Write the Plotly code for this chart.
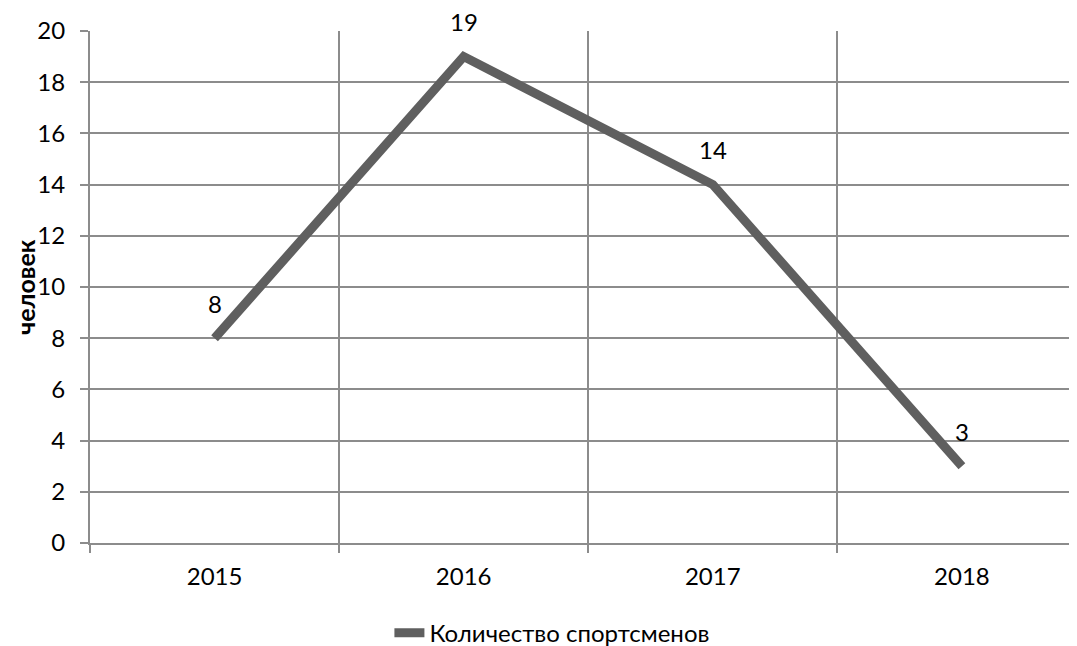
import plotly.graph_objects as go

years = ["2015", "2016", "2017", "2018"]
athletes = [8, 19, 14, 3]
series_name = "Количество спортсменов"
y_title = "человек"

FONT = "Lato"
GRID = "#8c8c8c"
LINE = "#5f5f5f"

fig = go.Figure()
fig.add_trace(go.Scatter(
    x=years, y=athletes, mode="lines", name=series_name,
    line=dict(color=LINE, width=9),
))

for i, v in enumerate(athletes):
    fig.add_annotation(x=i, y=v, xref="x", yref="y", text=str(v),
                       showarrow=False, yshift=35,
                       font=dict(family=FONT, size=24, color="black"))

# y-axis title placed as a rotated annotation left of the axis
fig.add_annotation(x=0, y=0.5, xref="paper", yref="paper", text="<b>" + y_title + "</b>",
                   textangle=-90, showarrow=False, xanchor="center", yanchor="middle",
                   xshift=-65, font=dict(family=FONT, size=25, color="black"))

# page body has an 8px default margin; size the figure to fit the window
fig.update_layout(
    width=1069, height=638,
    margin=dict(l=82, r=0, t=23, b=103, autoexpand=False),
    paper_bgcolor="white", plot_bgcolor="white",
    font=dict(family=FONT, size=24, color="black"),
    showlegend=True,
    legend=dict(orientation="h", x=0.468, xanchor="center", y=-0.176, yanchor="middle",
                font=dict(family=FONT, size=24, color="black")),
    xaxis=dict(type="category", range=[-0.5, 3.462], tickson="boundaries",
               showgrid=True, gridcolor=GRID, gridwidth=2,
               ticks="outside", ticklen=8, tickcolor=GRID, tickwidth=2,
               showline=True, linecolor=GRID, linewidth=2,
               zeroline=False, ticklabelstandoff=11),
    yaxis=dict(range=[0, 20], dtick=2, showgrid=True, gridcolor=GRID, gridwidth=2,
               ticks="outside", ticklen=8, tickcolor=GRID, tickwidth=2,
               showline=True, linecolor=GRID, linewidth=2, zeroline=False,
               ticklabelstandoff=10),
)

fig.write_html("out.html")
